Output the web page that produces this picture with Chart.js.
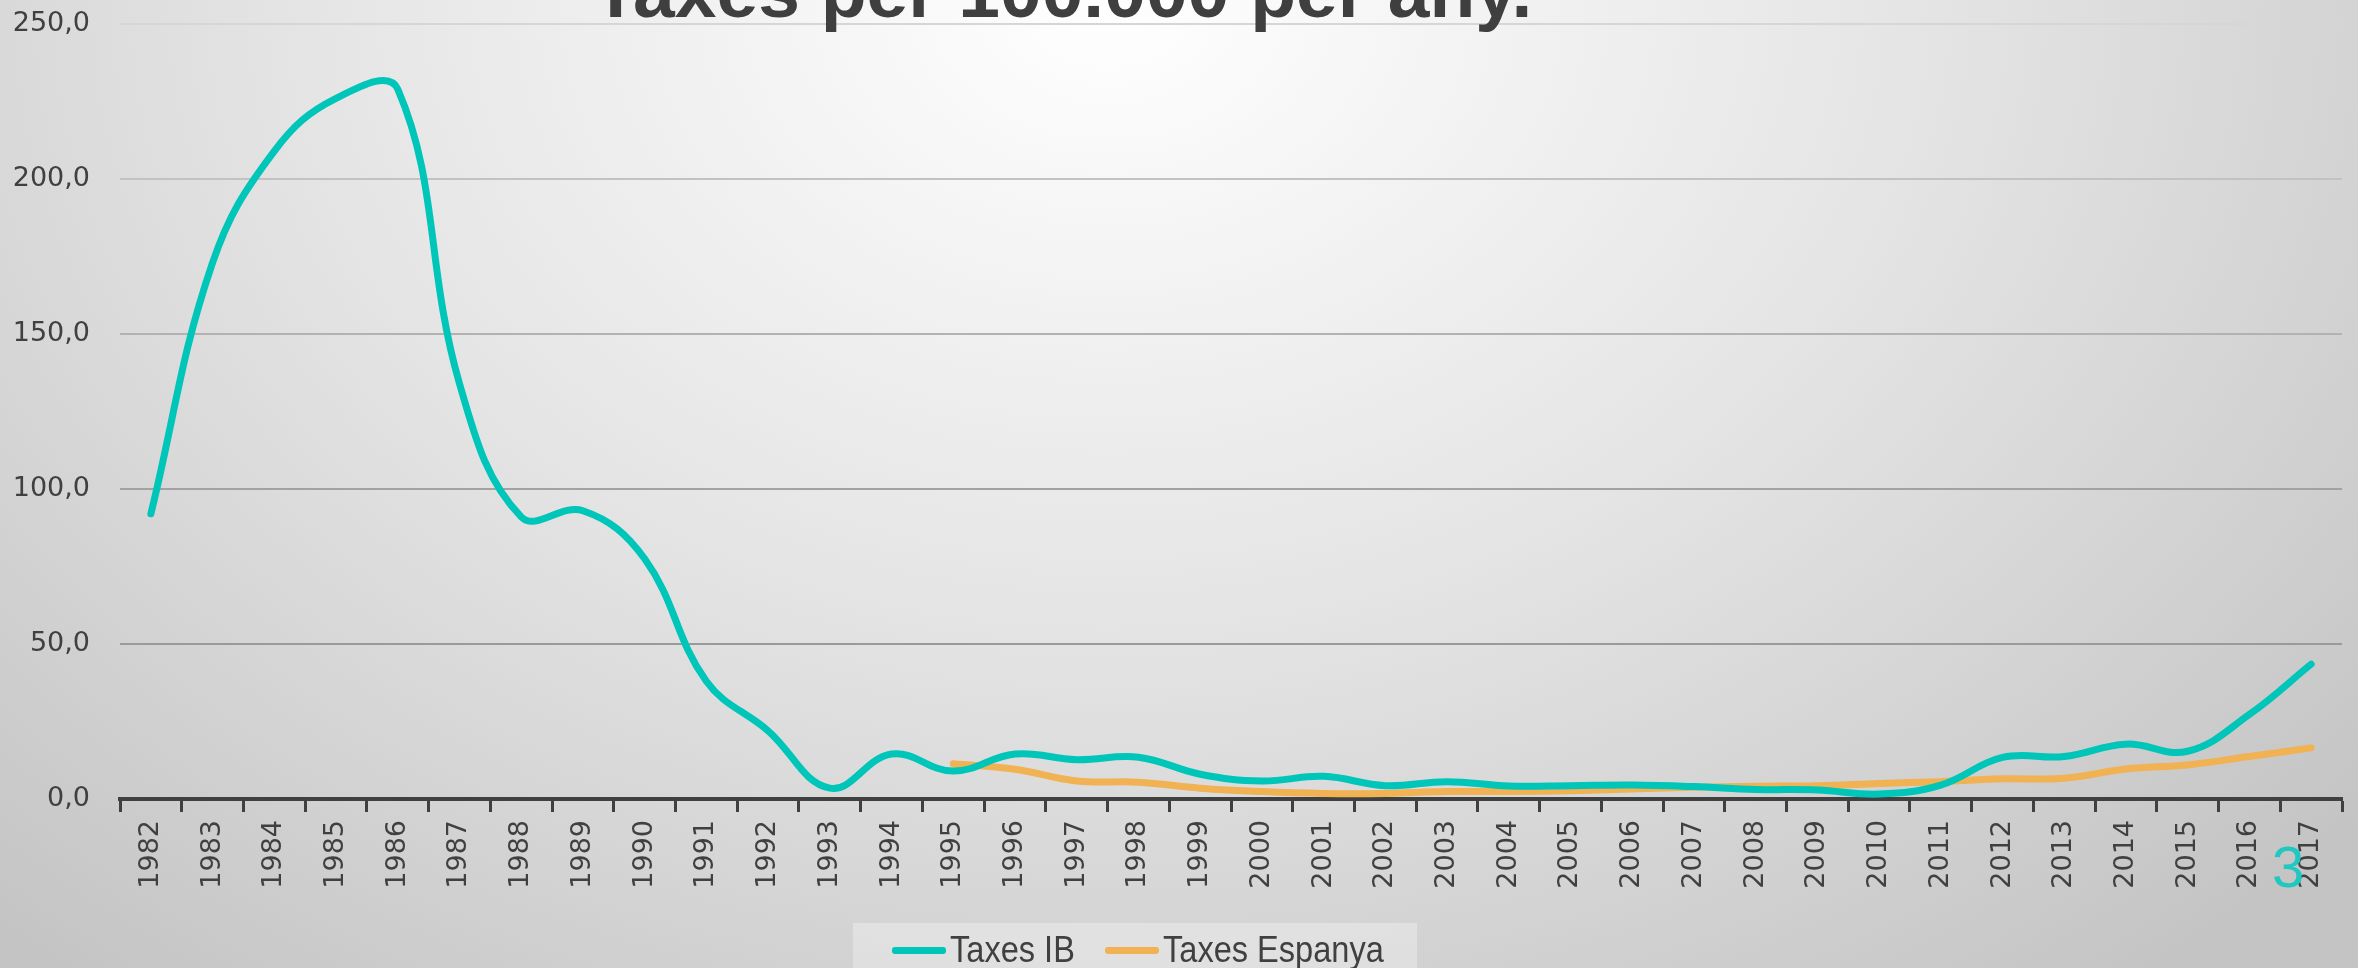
<!DOCTYPE html>
<html>
<head>
<meta charset="utf-8">
<script src="https://cdn.jsdelivr.net/npm/chart.js@4"></script>
<style>
  html, body { margin: 0; padding: 0; width: 2358px; height: 968px; overflow: hidden; }
  body {
    position: relative;
    background: radial-gradient(ellipse 70% 130% at 47% 0%, #ffffff 0%, #e4e4e4 50%, #c4c4c4 100%);
    font-family: 'Liberation Sans Narrow', sans-serif;
  }
  #wrap { position: absolute; left: 0; top: 0; width: 2358px; height: 968px; }
  h1 {
    position: absolute; margin: 0; left: 0; width: 2125px; top: -46px;
    text-align: center; font: bold 75px/1 'Liberation Sans Narrow', sans-serif; color: #3f3f3f;
    white-space: nowrap;
  }
  #legendBox {
    position: absolute; left: 853px; top: 923px; width: 564px; height: 60px;
    background: rgba(255, 255, 255, 0.3);
  }
  .sw { position: absolute; top: 947px; width: 54px; height: 7px; border-radius: 3px; }
  .lt {
    position: absolute; top: 931px; white-space: nowrap;
    font: 37px/1 'Liberation Sans Narrow', sans-serif; color: #404040;
    transform: scaleX(0.88); transform-origin: left center;
  }
  #page {
    position: absolute; left: 2272px; top: 838px;
    font: 58px/1 'Liberation Sans Narrow', sans-serif; color: #1fc8c1;
  }
</style>
</head>
<body>
<div id="wrap"><canvas id="myChart" width="2358" height="968"></canvas></div>
<h1>Taxes per 100.000 per any.</h1>
<div id="legendBox"></div>
<span class="sw" style="left:892px;background:#00c5b9"></span>
<span class="lt" style="left:950px">Taxes IB</span>
<span class="sw" style="left:1105px;background:#f0b252"></span>
<span class="lt" style="left:1163px">Taxes Espanya</span>
<div id="page">3</div>
<script>
const years = ['1982', '1983', '1984', '1985', '1986', '1987', '1988', '1989', '1990', '1991', '1992', '1993',
  '1994', '1995', '1996', '1997', '1998', '1999', '2000', '2001', '2002', '2003', '2004', '2005', '2006', '2007',
  '2008', '2009', '2010', '2011', '2012', '2013', '2014', '2015', '2016', '2017'];

const taxesIB = [92, 173, 209, 226, 229, 134, 91, 93, 77.5, 38, 22, 3.5, 14.5, 9, 14.5, 12.7, 13.5, 8, 5.8, 7.3,
  4.3, 5.6, 4.2, 4.3, 4.5, 4.0, 3.1, 2.9, 1.6, 4.5, 13.4, 13.7, 17.7, 15.4, 27.3, 43.5];

const taxesEspanya = [null, null, null, null, null, null, null, null, null, null, null, null, null,
  11.4, 9.6, 5.8, 5.4, 3.5, 2.4, 1.8, 1.8, 2.4, 2.4, 2.7, 3.2, 3.8, 4.1, 4.3, 5.0, 5.6, 6.5, 6.7, 9.7, 11.0, 13.7, 16.5];

const yTicks = [0, 50, 100, 150, 200, 250];
const gridColors = ['#9a9a9a', '#9a9a9a', '#a2a2a2', '#b2b2b2', '#c2c2c2', '#d6d6d6'];

const tickFont = { family: 'DejaVu Sans', size: 27 };

const ctx = document.getElementById('myChart');

new Chart(ctx, {
  type: 'line',
  data: {
    labels: years,
    datasets: [
      {
        label: 'Taxes IB',
        data: taxesIB,
        borderColor: '#00c5b9',
        borderWidth: 7,
        tension: 0.4,
        pointRadius: 0,
        borderCapStyle: 'round',
      },
      {
        label: 'Taxes Espanya',
        data: taxesEspanya,
        borderColor: '#f0b252',
        borderWidth: 7,
        tension: 0.4,
        pointRadius: 0,
        borderCapStyle: 'round',
      },
    ],
  },
  options: {
    responsive: false,
    animation: false,
    layout: { padding: { top: 24, right: 16, left: 0, bottom: 0 } },
    plugins: { legend: { display: false }, tooltip: { enabled: false } },
    scales: {
      x: {
        offset: true,
        grid: { offset: true, drawOnChartArea: false, drawTicks: true, tickLength: 13, tickWidth: 3, tickColor: '#404040' },
        border: { display: true, color: '#404040', width: 4 },
        ticks: { minRotation: 90, maxRotation: 90, autoSkip: false, padding: 8, color: '#404040', font: tickFont },
        afterFit: (s) => { s.height = 169; s.paddingTop = 0; },
      },
      y: {
        min: 0,
        max: 250,
        afterBuildTicks: (s) => { s.ticks = yTicks.map((v) => ({ value: v })); },
        ticks: {
          padding: 30,
          color: '#404040',
          font: tickFont,
          callback: (v) => v.toFixed(1).replace('.', ','),
        },
        grid: {
          drawTicks: false,
          lineWidth: 2,
          color: (c) => gridColors[yTicks.indexOf(c.tick.value)] || '#aaa',
        },
        border: { display: false },
        afterFit: (s) => { s.width = 120; s.paddingTop = 0; s.paddingBottom = 0; },
      },
    },
  },
});
</script>
</body>
</html>
